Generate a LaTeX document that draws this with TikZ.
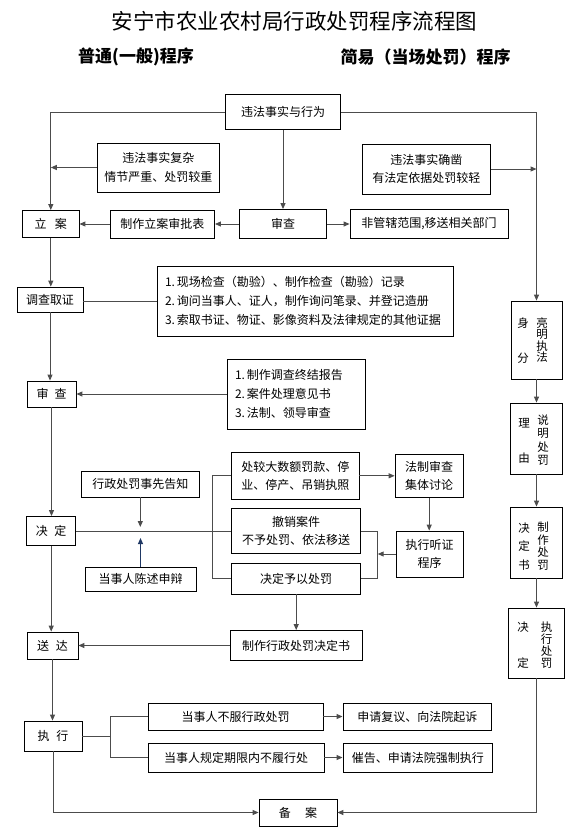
\documentclass[tikz,border=0pt]{standalone}
\usepackage{fontspec}
\setmainfont{Noto Sans CJK SC}
\usetikzlibrary{arrows.meta}
\definecolor{navyline}{RGB}{31,56,100}

\begin{document}
\begin{tikzpicture}[x=1pt,y=-1pt,
  box/.style={draw=black,line width=0.8pt,inner sep=0pt,align=center,font=\fontsize{12}{18.5}\selectfont},
  listbox/.style={box,align=left,inner xsep=8pt,font=\fontsize{12}{19}\selectfont},
  vtext/.style={inner sep=0pt,align=center},
  link/.style={line width=1pt,draw=black!70},
  arr/.style={link,-{Triangle[length=6pt,width=5pt]}}]
\useasboundingbox (0,0) rectangle (588,836);
%% titles
\node[font=\fontsize{21.5}{22}\selectfont] (title) at (294.5,21) {安宁市农业农村局行政处罚程序流程图};
\node[font=\bfseries\fontsize{17}{18}\selectfont] (ptcx) at (136,57) {普通(一般)程序};
\node[font=\bfseries\fontsize{17}{18}\selectfont] (jycx) at (425.5,57) {简易（当场处罚）程序};
%% top part
\node[box,minimum width=115pt,minimum height=35pt] (ss) at (283,112) {违法事实与行为};
\node[box,minimum width=121.5pt,minimum height=49pt] (fz) at (158.3,167.5) {违法事实复杂\\情节严重、处罚较重};
\node[box,minimum width=128.7pt,minimum height=50pt] (qz) at (426.3,169) {违法事实确凿\\有法定依据处罚较轻};
\node[box,minimum width=56.5pt,minimum height=27pt] (la) at (50.8,224) {立\hspace{0.7em}案};
\node[box,minimum width=104.5pt,minimum height=28pt] (spb) at (162.3,224) {制作立案审批表};
\node[box,minimum width=87pt,minimum height=29pt] (sc1) at (283,224) {审查};
\node[box,minimum width=158pt,minimum height=29pt] (fgx) at (429,224) {非管辖范围,移送相关部门};
%% investigation
\node[box,minimum width=66pt,minimum height=25pt] (dc) at (50,299.5) {调查取证};
\node[listbox,text width=280pt,minimum height=70pt] (zj) at (305,301) {1.\,现场检查（勘验）、制作检查（勘验）记录\\2.\,询问当事人、证人，制作询问笔录、并登记造册\\3.\,索取书证、物证、影像资料及法律规定的其他证据};
\node[box,minimum width=49pt,minimum height=26pt] (sc2) at (51.5,394) {审\hspace{0.5em}查};
\node[listbox,text width=122pt,minimum height=70pt] (bg) at (296,394) {1.\,制作调查终结报告\\2.\,案件处理意见书\\3.\,法制、领导审查};
%% decision
\node[box,minimum width=49pt,minimum height=29pt] (jd) at (51.2,531) {决\hspace{0.55em}定};
\node[box,minimum width=117.3pt,minimum height=25.3pt] (gz) at (140.3,484.3) {行政处罚事先告知};
\node[box,minimum width=111pt,minimum height=24.7pt] (sb) at (140.5,579.3) {当事人陈述申辩};
\node[box,minimum width=127.3pt,minimum height=46.3pt] (dj) at (295.3,475.8) {处较大数额罚款、停\\业、停产、吊销执照};
\node[box,minimum width=129pt,minimum height=45pt] (cx) at (296.2,531) {撤销案件\\不予处罚、依法移送};
\node[box,minimum width=129pt,minimum height=31pt] (yy) at (296.2,578.5) {决定予以处罚};
\node[box,minimum width=68.3pt,minimum height=43.3pt] (fs) at (429.2,475.8) {法制审查\\集体讨论};
\node[box,minimum width=67.3pt,minimum height=46pt] (tz) at (429.7,554) {执行听证\\程序};
%% delivery and execution
\node[box,minimum width=51pt,minimum height=27pt] (sd) at (52.5,645.5) {送\hspace{0.55em}达};
\node[box,minimum width=132pt,minimum height=30pt] (jds) at (296,645.5) {制作行政处罚决定书};
\node[box,minimum width=58pt,minimum height=30pt] (zx) at (53,736) {执\hspace{0.55em}行};
\node[box,minimum width=175pt,minimum height=27pt] (bf) at (235.5,716.5) {当事人不服行政处罚};
\node[box,minimum width=176pt,minimum height=29pt] (bl) at (236,757.5) {当事人规定期限内不履行处};
\node[box,minimum width=148.7pt,minimum height=27pt] (fy) at (417.3,716.5) {申请复议、向法院起诉};
\node[box,minimum width=149.7pt,minimum height=29pt] (cg) at (417.8,757.5) {催告、申请法院强制执行};
\node[box,minimum width=78pt,minimum height=27pt] (ba) at (298,812.5) {备\hspace{1.2em}案};
%% simple procedure column
\node[box,minimum width=51pt,minimum height=78pt] (lm) at (536.5,340) {};
\node[vtext,font=\fontsize{11.5}{11.3}\selectfont] (lmr) at (542,340) {亮\\明\\执\\法};
\node[vtext,font=\fontsize{11.5}{11.5}\selectfont] (lml) at (523,340.5) {身\\[23pt]分};
\node[box,minimum width=51.3pt,minimum height=71pt] (sm) at (536.5,438.5) {};
\node[vtext,font=\fontsize{11.5}{13.3}\selectfont] (smr) at (543,440) {说\\明\\处\\罚};
\node[vtext,font=\fontsize{11.5}{11.5}\selectfont] (sml) at (524,440.5) {理\\[23.5pt]由};
\node[box,minimum width=51.3pt,minimum height=71pt] (zz) at (536.5,542.5) {};
\node[vtext,font=\fontsize{11.5}{12.7}\selectfont] (zzr) at (543,546) {制\\作\\处\\罚};
\node[vtext,font=\fontsize{11.5}{12}\selectfont] (zzl) at (524,546.5) {决\\[6.5pt]定\\[6.5pt]书};
\node[box,minimum width=56.7pt,minimum height=70pt] (zc) at (536.5,643) {};
\node[vtext,font=\fontsize{11.5}{12}\selectfont] (zcr) at (546.5,645) {执\\行\\处\\罚};
\node[vtext,font=\fontsize{11.5}{11.5}\selectfont] (zcl) at (523,645) {决\\[24pt]定};
%% connectors, top part
\draw[arr] (ss.west) -- (ss.west -| la.north) -- (la.north);
\draw[arr] (ss.east) -- (ss.east -| lm.north) -- (lm.north);
\draw[arr] (fz.west) -- (fz.west -| la.north);
\draw[arr] (qz.east) -- (qz.east -| lm.north);
\draw[arr] (ss.south) -- (sc1.north);
\draw[arr] (sc1.west) -- (spb.east);
\draw[arr] (spb.west) -- (la.east);
\draw[arr] (sc1.east) -- (fgx.west);
%% connectors, investigation
\draw[arr] (la.south) -- (la.south |- dc.north);
\draw[link] (zj.west) -- (zj.west -| dc.east);
\draw[arr] (dc.south) -- (dc.south |- sc2.north);
\draw[arr] (bg.west) -- (bg.west -| sc2.east);
\draw[arr] (sc2.south) -- (sc2.south |- jd.north);
%% connectors, decision
\coordinate (jdfork) at (212,531);
\coordinate (cxjoin) at (377.7,531);
\draw[link] (jd.east) -- (jd.east -| cx.west);
\draw[link] (dj.west) -- (dj.west -| jdfork) -- (yy.west -| jdfork) -- (yy.west);
\draw[arr,shorten >=4pt] (gz.south) -- (gz.south |- jd.east);
\draw[arr,draw=navyline,fill=navyline,shorten >=7pt] (sb.north) -- (sb.north |- jd.east);
\draw[arr] (dj.east) -- (dj.east -| fs.west);
\draw[arr] (fs.south) -- (fs.south |- tz.north);
\draw[link] (cx.east) -- (cx.east -| cxjoin) -- (yy.east -| cxjoin) -- (yy.east);
\draw[arr] (tz.west) -- (tz.west -| cxjoin);
%% connectors, delivery and execution
\draw[arr] (yy.south) -- (yy.south |- jds.north);
\draw[arr] (jds.west) -- (jds.west -| sd.east);
\draw[arr] (jd.south) -- (jd.south |- sd.north);
\draw[arr] (sd.south) -- (sd.south |- zx.north);
\coordinate (zxfork) at (110,736);
\draw[link] (zx.east) -- (zxfork);
\draw[link] (bf.west) -- (bf.west -| zxfork) -- (bl.west -| zxfork) -- (bl.west);
\draw[arr] (bf.east) -- (fy.west);
\draw[arr] (bl.east) -- (cg.west);
\draw[arr] (zx.south) -- (zx.south |- ba.west) -- (ba.west);
%% connectors, simple procedure
\draw[arr] (lm.south) -- (sm.north);
\draw[arr] (sm.south) -- (zz.north);
\draw[arr] (zz.south) -- (zc.north);
\draw[arr] (zc.south) -- (zc.south |- ba.east) -- (ba.east);
\end{tikzpicture}
\end{document}
